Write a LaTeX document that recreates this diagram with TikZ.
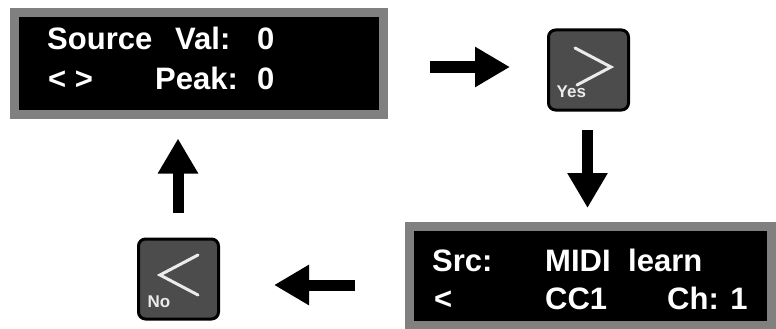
\documentclass[tikz,border=0pt]{standalone}
\usepackage{fontspec}
\setmainfont{Liberation Sans}
\usetikzlibrary{arrows.meta,calc}

\tikzset{
    display/.style={fill=black, draw=black!50, line width=9pt, inner sep=0pt},
    lcd/.style={text=white, font=\bfseries\fontsize{31}{36}\selectfont, inner sep=0pt, anchor=base west},
    keycap/.style={fill=black!70, draw=black, line width=3pt, rounded corners=7pt,
        minimum width=80pt, minimum height=80pt, inner sep=0pt},
    chevron/.style={draw=white!92!black, line width=3pt, line cap=round},
    keylabel/.style={text=white!92!black, font=\bfseries\fontsize{17}{20}\selectfont, inner sep=0pt, anchor=base west},
    bigarrow/.style={line width=11pt, -{Triangle[length=35pt,width=38pt]}}
}

\begin{document}
\begin{tikzpicture}[x=1pt, y=-1pt]
        \useasboundingbox (0,0) rectangle (776,329);

        % the two screens
        \node[display, minimum width=369pt, minimum height=101pt] (topdisp) at (199,63.5) {};
        \node[display, minimum width=362pt, minimum height=99pt] (botdisp) at (590.5,276) {};

        \node[lcd] (source) at (47,50) {Source};
        \node[lcd] (val) at (175,50) {Val:};
        \node[lcd] (valnum) at (257,50) {0};
        \node[lcd] (lr) at (48,89) {< >};
        \node[lcd] (peak) at (155,89) {Peak:};
        \node[lcd] (peaknum) at (257,89) {0};

        \node[lcd] (srclbl) at (432,271) {Src:};
        \node[lcd] (midi) at (545,271) {MIDI};
        \node[lcd] (learn) at (628,271) {learn};
        \node[lcd] (lt) at (434,309) {<};
        \node[lcd] (cc) at (545,309) {CC1};
        \node[lcd] (ch) at (667,309) {Ch: 1};

        % the two keys
        \node[keycap] (yes) at (588.5,70) {};
        \draw[chevron] ([shift={(-13.5,-22)}]yes.center) -- ([shift={(22.5,-3)}]yes.center)
            -- ([shift={(-11.5,15)}]yes.center);
        \node[keylabel] (yeslbl) at ([shift={(-32,27)}]yes.center) {Yes};

        \node[keycap] (no) at (178.5,279) {};
        \draw[chevron] ([shift={(19.5,-24)}]no.center) -- ([shift={(-18.5,-4)}]no.center)
            -- ([shift={(19.5,16)}]no.center);
        \node[keylabel] (nolbl) at ([shift={(-31,28)}]no.center) {No};

        % flow arrows
        \draw[bigarrow, shorten <=42pt, shorten >=37pt]
            ([yshift=-3.5pt]topdisp.east) -- ([yshift=-3.5pt]topdisp.east -| yes.west);
        \draw[bigarrow, shorten <=18pt, shorten >=14pt]
            ([xshift=-1pt]yes.south) -- ([xshift=-1pt]yes.south |- botdisp.north);
        \draw[bigarrow, shorten <=50pt, shorten >=54pt]
            ([yshift=-9pt]botdisp.west) -- ([yshift=-9pt]botdisp.west -| no.east);
        \draw[bigarrow, shorten <=25pt, shorten >=20pt]
            ([xshift=-0.5pt]no.north) -- ([xshift=-0.5pt]no.north |- topdisp.south);
\end{tikzpicture}
\end{document}
